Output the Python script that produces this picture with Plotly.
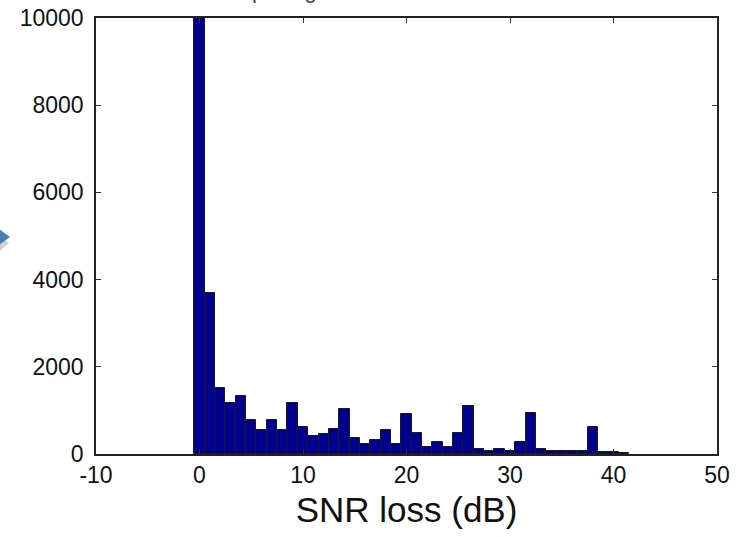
import plotly.graph_objects as go

# ---- data ----
snr_loss_db = list(range(0, 42))
counts = [10000, 3700, 1510, 1180, 1320, 770, 540, 770, 540, 1180,
          630, 410, 460, 580, 1040, 360, 220, 310, 540, 220,
          910, 490, 170, 280, 170, 490, 1090, 120, 70, 120,
          70, 280, 950, 120, 70, 70, 70, 70, 630, 40,
          40, 30]
x_ticks = [-10, 0, 10, 20, 30, 40, 50]
y_ticks = [0, 2000, 4000, 6000, 8000, 10000]
title_text = "pdf signal loss over all locations"
x_title = "SNR loss (dB)"

W, H = 739, 537
ML, MR, MT, MB = 96, 22, 18, 83
PW, PH = W - ML - MR, H - MT - MB

def px(x):
    return (x - ML) / PW

def py(y):
    return (H - MB - y) / PH

fig = go.Figure()
fig.add_trace(go.Bar(
    x=snr_loss_db, y=counts, width=1.0,
    marker=dict(color="#00008F", line=dict(color="#1a1a1a", width=1)),
))

axis_common = dict(
    showgrid=False, zeroline=False, showline=True, linecolor="#222222",
    linewidth=1.5, mirror="allticks", ticks="inside", ticklen=5,
    tickcolor="#333333", tickwidth=1, automargin=False,
    tickfont=dict(family="Liberation Sans, Arial", size=23, color="#111111"),
)

fig.update_layout(
    width=W, height=H,
    margin=dict(l=ML, r=MR, t=MT, b=MB, pad=0, autoexpand=False),
    paper_bgcolor="white", plot_bgcolor="white",
    showlegend=False, bargap=0,
    xaxis=dict(range=[-10, 50], tickvals=x_ticks, ticktext=[str(v) for v in x_ticks],
               title=dict(text=x_title, standoff=10,
                          font=dict(family="Liberation Sans, Arial", size=35, color="#111111")),
               **axis_common),
    yaxis=dict(range=[0, 10000], tickvals=y_ticks, ticktext=[str(v) for v in y_ticks],
               ticklabelstandoff=6, **axis_common),
)

# partially cut-off title at the very top (as in the reference)
fig.add_annotation(
    text=title_text, xref="paper", yref="paper", x=0.5, y=py(5),
    xanchor="center", yanchor="bottom", showarrow=False,
    font=dict(family="Liberation Sans, Arial", size=22, color="#444444"),
)

# slide arrow fragment at left edge (shadow + triangle)
def tri(x0, y0, x1, y1, x2, y2):
    return f"M {px(x0)},{py(y0)} L {px(x1)},{py(y1)} L {px(x2)},{py(y2)} Z"

fig.add_shape(type="path", xref="paper", yref="paper",
              path=tri(-6, 231, 9, 243, -6, 256),
              fillcolor="rgba(120,120,120,0.35)", line=dict(width=0), layer="above")
fig.add_shape(type="path", xref="paper", yref="paper",
              path=tri(-8, 224, 10, 237, -8, 250),
              fillcolor="#4A7EBB", line=dict(width=0), layer="above")

fig.write_html("out.html", config={"displayModeBar": False},
               post_script="document.body.style.margin='0';document.body.style.overflow='hidden';")
